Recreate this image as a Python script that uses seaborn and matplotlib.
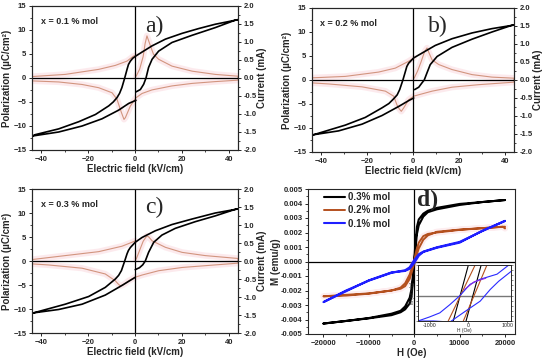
import matplotlib
matplotlib.use("Agg")
import matplotlib.pyplot as plt
import seaborn as sns
from matplotlib.ticker import MultipleLocator, FormatStrFormatter

# ---------- data ----------
# P-E loops (kV/cm, uC/cm2): starts at E=0, up to +Emax, down the upper branch to -Emax, back up to 0
E_a = [0.4, 2.3, 3.7, 4.7, 5.8, 7.3, 10.1, 15.8, 24.4, 34.3, 43.1, 44,
       34.3, 27.2, 20.1, 13, 7.3, 3, 0.4, -1, -2, -2.8, -3.4, -4.4, -5.6, -6.6, -7.7, -9.3, -11.2, -16.9, -24, -32.6, -42.6, -44,
       -32.6, -22.6, -14.1, -7, -2.7, 0.4]
P_a = [-2.9, -2.4, -1.3, 0.0, 2.2, 3.9, 5.6, 7.4, 8.9, 10.5, 12.1, 12.15,
       11.2, 10.3, 9.3, 8.1, 6.7, 5.4, 4.6, 4.1, 3.5, 2.8, 1.8, 0.0, -2.0, -3.2, -4.1, -5.0, -5.8, -7.6, -9.1, -10.6, -11.8, -12.1,
       -11.25, -10.0, -8.5, -6.7, -5.3, -4.65]

E_b = [0.7, 2.5, 3.9, 4.9, 6.1, 7.5, 10.5, 17, 25.7, 34.4, 43.1, 44,
       34.4, 25.7, 17, 9.7, 3.9, 0.3, -1.9, -2.7, -3.3, -4.4, -5.8, -6.9, -8.4, -10.5, -13.5, -20.8, -29.5, -43.3, -44,
       -32.4, -22.2, -13.5, -6.2, -1.9, 0.3]
P_b = [-2.0, -1.5, -0.6, 0.0, 1.5, 3.2, 4.9, 6.8, 8.5, 10.0, 11.4, 11.45,
       10.7, 9.8, 8.6, 7.2, 5.6, 4.6, 3.5, 2.8, 1.8, 0.0, -2.0, -3.1, -3.9, -4.9, -5.8, -7.8, -9.4, -11.4, -11.45,
       -10.6, -9.2, -7.4, -5.5, -4.3, -3.75]

E_c = [0.1, 1.9, 3.3, 4.4, 5.8, 8, 11.5, 17.2, 25.8, 34.3, 43.1, 44,
       34.3, 24.4, 15.8, 8.7, 3, 0.1, -2, -2.8, -3.4, -4.4, -5.8, -7, -8.4, -12.7, -19.8, -29.8, -43.3, -44,
       -32.6, -22.6, -12.7, -5.6, 0.1]
P_c = [-1.8, -1.4, -0.8, 0.0, 1.8, 3.9, 5.4, 6.8, 8.2, 9.4, 10.8, 10.85,
       10.0, 8.75, 7.6, 6.3, 4.9, 3.9, 2.8, 2.2, 1.5, 0.0, -2.0, -3.0, -3.75, -5.5, -7.4, -9.0, -10.8, -10.85,
       -10.1, -9.0, -7.1, -5.1, -3.4]

# switching current (mA), one full cycle starting at E=0
Ei_a = [0.5, 2, 3.5, 4.3, 5.1, 6.6, 7.9, 10.1, 15.8, 24.4, 34.3, 44,
        44, 34.3, 24.4, 15.8, 7.3, 3, 0.4, -2, -4.1, -4.7, -5.8, -7.7, -9.8, -15.5, -22.6, -32.6, -44,
        -44, -29.8, -15.5, -8.4, -3.4, -0.6, 0.5]
I_a = [0.05, 0.25, 0.6, 0.95, 1.17, 0.89, 0.66, 0.52, 0.33, 0.19, 0.1, 0.05,
       -0.06, -0.1, -0.15, -0.22, -0.33, -0.43, -0.55, -0.78, -1.1, -1.15, -0.96, -0.59, -0.41, -0.27, -0.18, -0.11, -0.08,
       0.04, 0.1, 0.24, 0.35, 0.47, 0.61, 0.62]

Ei_b = [0.5, 2, 3.5, 5, 6.1, 7, 8.3, 11.2, 17, 25.7, 34.4, 44,
        44, 28.6, 17, 8.3, 2.5, 0.3, -1.9, -4.1, -5.1, -6, -7, -8.4, -12, -22.2, -36.7, -44,
        -44, -29.5, -15, -7.7, -1.9, 0.3]
I_b = [0.05, 0.25, 0.5, 0.78, 0.89, 0.75, 0.56, 0.43, 0.29, 0.15, 0.08, 0.05,
       -0.06, -0.13, -0.2, -0.31, -0.41, -0.45, -0.55, -0.78, -0.87, -0.8, -0.69, -0.45, -0.31, -0.19, -0.11, -0.08,
       0.06, 0.1, 0.22, 0.33, 0.52, 0.61]

Ei_c = [0.5, 2, 3.5, 5.1, 6, 7.3, 13, 20.1, 30, 44,
        44, 34, 20.1, 10.1, 3, 0.1, -2.7, -5, -6.3, -7.3, -8.4, -12.7, -22.6, -36.9, -44,
        -44, -29.8, -15.5, -5.6, -1.3, 0.1]
I_c = [0.05, 0.3, 0.55, 0.7, 0.66, 0.56, 0.38, 0.24, 0.15, 0.07,
       -0.06, -0.11, -0.18, -0.27, -0.39, -0.45, -0.55, -0.66, -0.69, -0.63, -0.55, -0.36, -0.2, -0.11, -0.08,
       0.04, 0.15, 0.26, 0.41, 0.52, 0.56]

# M-H loops (Oe, emu/g): descending then ascending branch
H_03 = [20000, 15000, 10000, 5000, 3000, 2000, 1000, 600, 300, 100, -100, -300, -600, -1000, -2000, -3000, -5000, -10000, -15000, -20000,
        -15000, -10000, -5000, -3000, -2000, -1000, -600, -300, -100, 100, 300, 600, 1000, 2000, 3000, 5000, 10000, 15000, 20000]
M_03 = [0.00424, 0.0041, 0.00397, 0.0037, 0.0035, 0.0033, 0.0029, 0.0024, 0.0014, 0.0005, -0.0002, -0.0010, -0.0019, -0.0025, -0.0031, -0.0034, -0.0036, -0.0039, -0.0041, -0.00428,
        -0.0041, -0.00392, -0.0037, -0.0035, -0.0033, -0.0029, -0.0024, -0.0014, -0.0005, 0.0002, 0.0010, 0.0019, 0.0025, 0.0031, 0.0034, 0.0036, 0.0039, 0.0041, 0.00424]

H_02 = [20000, 15000, 10000, 5000, 3000, 2000, 1000, 500, 0, -500, -1000, -2000, -3000, -5000, -10000, -15000, -20000,
        -15000, -10000, -5000, -3000, -2000, -1000, -500, 0, 500, 1000, 2000, 3000, 5000, 10000, 15000, 19500, 20000]
M_02 = [0.0024, 0.0023, 0.00218, 0.002, 0.0019, 0.00175, 0.0013, 0.0008, 0.0001, -0.0004, -0.0009, -0.0015, -0.0018, -0.0020, -0.0022, -0.0023, -0.0024,
        -0.00235, -0.00222, -0.002, -0.00188, -0.0017, -0.0012, -0.0007, -0.0001, 0.0004, 0.0009, 0.0015, 0.0018, 0.00205, 0.0022, 0.0023, 0.0024, 0.00228]

H_01 = [20000, 15000, 10000, 5000, 2000, 1000, 0, -1000, -2000, -5000, -10000, -15000, -20000,
        -15000, -10000, -5000, -2000, -1000, 0, 1000, 2000, 5000, 10000, 15000, 20000]
M_01 = [0.0028, 0.0021, 0.00135, 0.00098, 0.00068, 0.0005, 0.0001, -0.0004, -0.0006, -0.00078, -0.00132, -0.0020, -0.0028,
        -0.00205, -0.0013, -0.00075, -0.00065, -0.0005, -0.0001, 0.0004, 0.00066, 0.00095, 0.0013, 0.00212, 0.0028]

# inset branches (Oe, emu/g)
ins_black = [([-390, 0], [-0.0005, 0.0006]), ([-60, 330], [-0.0005, 0.0006])]
ins_brown = [([-520, 175], [-0.0005, 0.0006]), ([-130, 480], [-0.0005, 0.0006])]
ins_blue = [([-1300, -1000, -737, -480, -216, 43, 305, 740, 1044, 1100], [-0.0005, -0.00042, -0.00034, -0.00018, 0.0, 0.00022, 0.00032, 0.00042, 0.0006, 0.00062]),
            ([-1300, -900, -477, -100, 305, 565, 781, 1112], [-0.0005, -0.0005, -0.00052, -0.00032, -0.00011, 0.00012, 0.00028, 0.00048])]
ins_purple = [([-100, 150, 450], [0.00012, 0.00027, 0.00034])]

samples = ['x = 0.1 % mol', 'x = 0.2 % mol', 'x = 0.3 % mol']
letters = ['a)', 'b)', 'c)', 'd)']
mh_labels = ['0.3% mol', '0.2% mol', '0.1% mol']

# ---------- style ----------
sns.set_theme(style="ticks")
plt.rcParams['font.family'] = ['Liberation Sans', 'DejaVu Sans']
plt.rcParams['font.weight'] = 'bold'
plt.rcParams['axes.labelweight'] = 'bold'
plt.rcParams['axes.linewidth'] = 0.8
for k in ['xtick', 'ytick']:
    plt.rcParams[k + '.major.size'] = 2.5
    plt.rcParams[k + '.minor.size'] = 1.3
    plt.rcParams[k + '.major.width'] = 0.7
    plt.rcParams[k + '.minor.width'] = 0.6
    plt.rcParams[k + '.major.pad'] = 1.5
    plt.rcParams[k + '.labelsize'] = 5.5

W, H = 550, 363
fig = plt.figure(figsize=(5.5, 3.63), dpi=100)
fig.patch.set_facecolor('white')


def rect(l, r, t, b):
    return [l / W, 1 - b / H, (r - l) / W, (b - t) / H]


def pe_panel(box, E, P, Ei, I, sample, letter, lxy):
    ax = fig.add_axes(box)
    ax2 = ax.twinx()
    # noisy current trace: light pink haze plus thin line
    sns.lineplot(x=Ei, y=I, sort=False, estimator=None, ax=ax2, color='#f9c4cd', lw=4.5, alpha=0.35)
    sns.lineplot(x=Ei, y=I, sort=False, estimator=None, ax=ax2, color='#d2957f', lw=0.8)
    ax.set_zorder(ax2.get_zorder() + 1)
    ax.patch.set_visible(False)
    ax.axhline(0, color='black', lw=0.9)
    ax.axvline(0, color='black', lw=0.9)
    sns.lineplot(x=E, y=P, sort=False, estimator=None, ax=ax, color='black', lw=1.2)
    ax.set_xlim(-44, 44)
    ax.set_ylim(-15, 15)
    ax2.set_ylim(-2, 2)
    ax.xaxis.set_major_locator(MultipleLocator(20))
    ax.xaxis.set_minor_locator(MultipleLocator(10))
    ax.yaxis.set_major_locator(MultipleLocator(5))
    ax.yaxis.set_minor_locator(MultipleLocator(2.5))
    ax2.yaxis.set_major_locator(MultipleLocator(0.5))
    ax2.yaxis.set_minor_locator(MultipleLocator(0.25))
    ax2.yaxis.set_major_formatter(FormatStrFormatter('%.1f'))
    ax.set_xlabel('Electric field (kV/cm)', fontsize=7, labelpad=1)
    ax.set_ylabel('Polarization (µC/cm²)', fontsize=7, labelpad=1)
    ax2.set_ylabel('Current (mA)', fontsize=7, labelpad=0.5)
    for a in (ax, ax2):
        for lab in a.get_xticklabels() + a.get_yticklabels():
            lab.set_fontweight('bold')
    ax.text(0.042, 0.889, sample, transform=ax.transAxes, fontsize=6.5,
            fontweight='bold', va='center', ha='left')
    ax.text(lxy[0], lxy[1], letter, transform=ax.transAxes, fontsize=17,
            family='Liberation Serif', fontweight='normal', va='center', ha='left')
    return ax


pe_panel(rect(32, 238, 6, 150), E_a, P_a, Ei_a, I_a, samples[0], letters[0], (0.55, 0.86))
pe_panel(rect(312, 514, 8, 152), E_b, P_b, Ei_b, I_b, samples[1], letters[1], (0.575, 0.875))
pe_panel(rect(32, 238, 189, 333), E_c, P_c, Ei_c, I_c, samples[2], letters[2], (0.55, 0.87))

# ---------- panel d ----------
axd = fig.add_axes(rect(308, 515, 189, 334))
axd.axhline(0, color='black', lw=0.9)
axd.axvline(0, color='black', lw=0.9)
sns.lineplot(x=H_02, y=M_02, sort=False, estimator=None, ax=axd, color='#f9c4cd', lw=4.5, alpha=0.3)
sns.lineplot(x=H_03, y=M_03, sort=False, estimator=None, ax=axd, color='black', lw=1.5, label=mh_labels[0])
sns.lineplot(x=H_02, y=M_02, sort=False, estimator=None, ax=axd, color='#b4501e', lw=1.4, label=mh_labels[1])
sns.lineplot(x=H_01, y=M_01, sort=False, estimator=None, ax=axd, color='#1f1fff', lw=1.5, label=mh_labels[2])
axd.set_xlim(-23400, 22200)
axd.set_ylim(-0.005, 0.005)
axd.xaxis.set_major_locator(MultipleLocator(10000))
axd.xaxis.set_minor_locator(MultipleLocator(5000))
axd.yaxis.set_major_locator(MultipleLocator(0.001))
axd.yaxis.set_minor_locator(MultipleLocator(0.0005))
axd.yaxis.set_major_formatter(FormatStrFormatter('%.3f'))
axd.set_xlabel('H (Oe)', fontsize=7, labelpad=1)
axd.set_ylabel('M (emu/g)', fontsize=7, labelpad=0)
for lab in axd.get_xticklabels() + axd.get_yticklabels():
    lab.set_fontweight('bold')
leg = axd.legend(loc='upper left', bbox_to_anchor=(0.05, 1.02), frameon=False,
                 fontsize=7, handlelength=2.1, handletextpad=0.3, labelspacing=0.35,
                 borderaxespad=0.2)
for t in leg.get_texts():
    t.set_fontweight('bold')
axd.text(0.525, 0.92, letters[3], transform=axd.transAxes, fontsize=17,
         family='Liberation Serif', va='center', ha='left')

# inset
axi = fig.add_axes(rect(418, 511, 265, 321))
axi.axhline(0, color='#777777', lw=1.0)
for col, branches in [('black', ins_black), ('#b4501e', ins_brown), ('#2a2aff', ins_blue), ('#8a2be2', ins_purple)]:
    for h, m in branches:
        sns.lineplot(x=h, y=m, sort=False, estimator=None, ax=axi, color=col, lw=0.8)
axi.set_xlim(-1300, 1100)
axi.set_ylim(-0.0005, 0.0006)
axi.set_xticks([-1000, 0, 1000])
axi.set_xticklabels(['-1000', '0', '1000'], fontsize=3.8, fontweight='normal')
axi.yaxis.set_major_locator(MultipleLocator(0.0001))
axi.tick_params(axis='y', labelleft=False, right=True, length=1.2, width=0.4)
axi.tick_params(axis='x', length=1.2, width=0.4, pad=0.5)
axi.set_xlabel('H (Oe)', fontsize=3.5, fontweight='normal', labelpad=0)
axi.set_ylabel('M (emu/g)', fontsize=3.5, fontweight='normal', labelpad=1)
for s in axi.spines.values():
    s.set_linewidth(0.7)

fig.savefig('out.png', dpi=100, facecolor='white')
